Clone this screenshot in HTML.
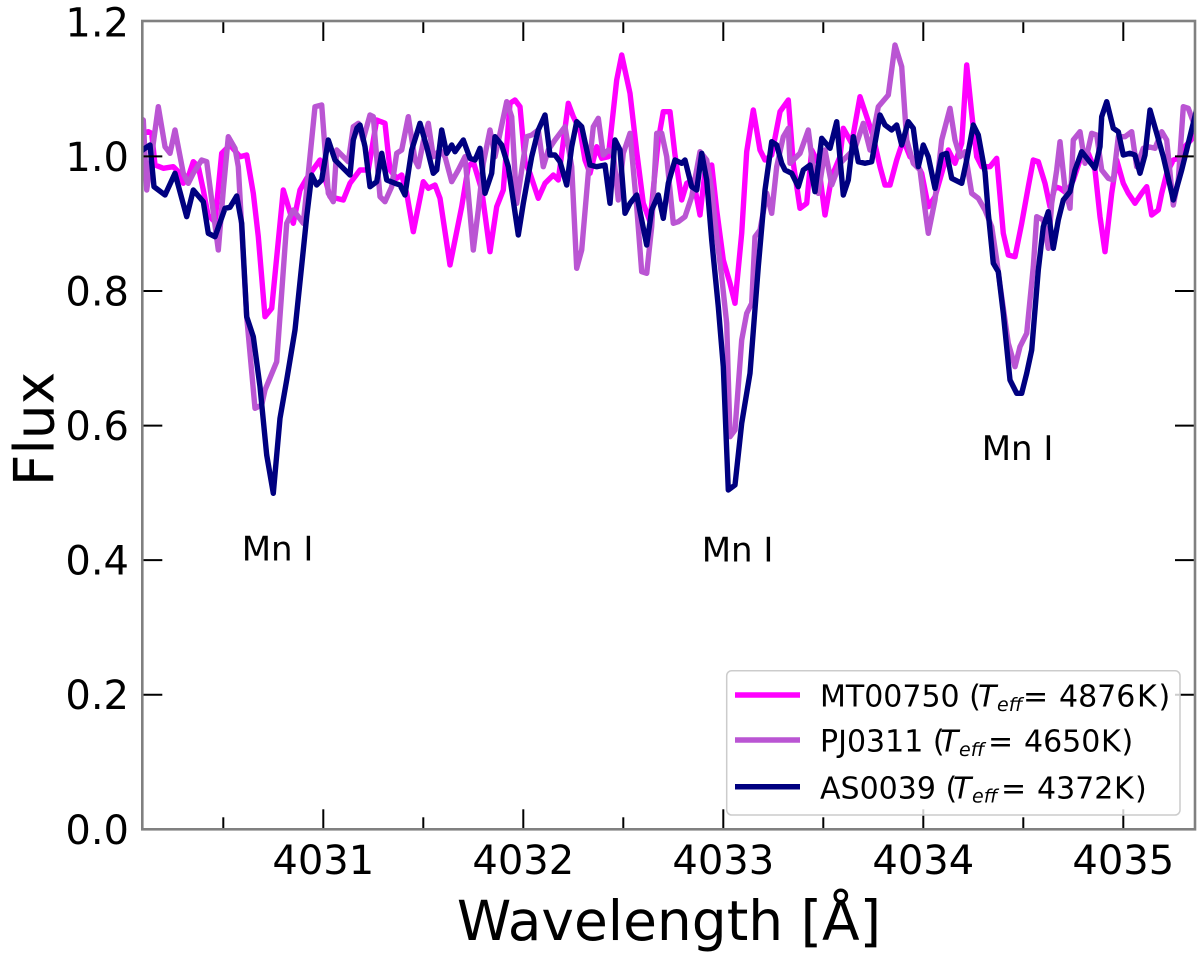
<!DOCTYPE html>
<html>
<head>
<meta charset="utf-8">
<style>
html,body{margin:0;padding:0;background:#fff;}
svg{display:block;}
text{font-family:"DejaVu Sans","Liberation Sans",sans-serif;fill:#000;}
</style>
</head>
<body>
<svg width="1200" height="958" viewBox="0 0 1200 958" xmlns="http://www.w3.org/2000/svg">
<defs>
<clipPath id="ax"><rect x="142.3" y="21" width="1052.7" height="808.3"/></clipPath>
</defs>
<rect width="1200" height="958" fill="#fff"/>

<g clip-path="url(#ax)" fill="none" stroke-width="5.4" stroke-linejoin="round" stroke-linecap="round">
<!-- MT00750 magenta -->
<polyline stroke="#ff00ff" points="140,134 143.3,133.3 148.3,131.7 151.7,133.3 155,165 163.3,168.3 173.3,166.7 178.3,171.7 183.3,183.3 188.3,176.7 193.3,161.7 198.3,166.7 203.3,190 208,215 215,222 221.7,153.3 230,145 240,156.7 246.7,155 253.3,193.3 258.3,236.7 265,316.7 271.7,308.3 283.3,190 293.3,223.3 300,190 306.7,178.3 320,160 330,196.7 343.3,200 350,183.3 360,170 368.3,170 376.7,120 385,123.3 390,170 396.7,178.3 401.7,175 406.7,193.3 413.3,231.7 423.3,181.7 428.3,188.3 435,185 440,198.3 450,265 461.7,206.7 468.3,166.7 473.3,161.7 481.7,190 490,251.7 496.7,206.7 503.3,190 510,103.3 515,100 520,106.7 525,161.7 530,173.3 538.3,198.3 545,183.3 553.3,175 558.3,180 568.3,103.3 573.3,116.7 580,130 585,160 590,173.3 596.7,146.7 601.7,158.3 608.3,156.7 616.7,80 621.7,55 630,93.3 636.7,151.7 643.3,203.3 650,221.7 658.3,140 663.3,111.7 670,111.7 675,155 681.7,200 686.7,183.3 693.3,180 700,215 705,171.7 711.7,165 716.7,210 723.3,260 730,283.3 735,303.3 741.7,233.3 746.7,151.7 753.3,110 760,150 765,160 771.7,155 780,111.7 788.3,100 793.3,163.3 800,208.3 806.7,203.3 811.7,150 818.3,163.3 825,215 831.7,176.7 840,156.7 843.3,128.3 851.7,143.3 860,96.7 866.7,116.7 873.3,136.7 880,166.7 885,185 890,185 896.7,160 903.3,140 910,156.7 915,160 921.7,173.3 928.3,206.7 935,196.7 941.7,173.3 948.3,150 955,163.3 961.7,143.3 966.7,65 971.7,113.3 976.7,156.7 981.7,166.7 990,166.7 996.7,158.3 1003.3,233.3 1008.3,255 1015,256.7 1021.7,223.3 1028.3,186.7 1033.3,160 1038.3,161.7 1045,183.3 1050,206.7 1055,186.7 1060,188.3 1066.7,193.3 1073.3,180 1080,160 1088.3,153.3 1095,170 1100,216.7 1105,251.7 1111.7,193.3 1116.7,160 1123.3,183.3 1128.3,193.3 1135,203.3 1141.7,193.3 1146.7,186.7 1151.7,215 1158.3,210 1161.7,193.3 1166.7,173.3 1173.3,160 1178.3,158.3 1185,146.7 1197,133"/>
<!-- PJ0311 purple -->
<polyline stroke="#ba55d3" points="140,118 143.3,120 146.7,190 151,160 158.3,106.7 165,146.7 170,153.3 175,130 183.3,173.3 188.3,183.3 193.3,173.3 201.7,160 206.7,161.7 211.7,200 218.3,250 223.3,190 228.3,136.7 235,148.3 238.3,166.7 246.7,316.7 255,408.3 261.7,405 265,390 276.7,361.7 286.7,223.3 293.3,210 303.3,223.3 315,106.7 321.7,105 328.3,193.3 333.3,201.7 336.7,150 348.3,161.7 353.3,126.7 358.3,123.3 363,140 370,115 373.3,116.7 380,196.7 385,201.7 391.7,186.7 396.7,153.3 401.7,150 408.3,116.7 415,160 418.3,166.7 423.3,141.7 428.3,123.3 433.3,156.7 440,150 445,156.7 451.7,181.7 458.3,170 465,156.7 473.3,250 478.3,210 483.3,163.3 490,130 495,156.7 500,133.3 506.7,101.7 511.7,116.7 516.7,203.3 521.7,170 526.7,136.7 531.7,135 538.3,130 543.3,166.7 548.3,150 555,140 565,126.7 571.7,166.7 576.7,268.3 581.7,250 588.3,173.3 593.3,126.7 598.3,118.3 603.3,155 608.3,150 613.3,153.3 618.3,200 623.3,153.3 630,133.3 636.7,206.7 641.7,271.7 646.7,273.3 651.7,226.7 656.7,133.3 661.7,133.3 666.7,156.7 673.3,223.3 678.3,221.7 685,216.7 691.7,196.7 700,151.7 706.7,160 711.7,190 716.7,236.7 721.7,276.7 726.7,323.3 730,436.7 735,430 741.7,340 746.7,313.3 751.7,303.3 755,236.7 760,230 766.7,193.3 771.7,213.3 776.7,166.7 783.3,136.7 788.3,128.3 790,163.3 800,153.3 808.3,130 813.3,170 818.3,193.3 825,150 831.7,185 840,163.3 846.7,156.7 855,148.3 863.3,123.3 870,150 878.3,106.7 888.3,95 895,45 901.7,66.7 906.7,140 913.3,163.3 920,170 923.3,196.7 928.3,233.3 935,200 941.7,140 950,108.3 955,140 960,156.7 965,151.7 971.7,193.3 978.3,198.3 985,210 991.7,226.7 996.7,260 1000,285 1008.3,343.3 1015,366.7 1020,346.7 1026.7,333.3 1033.3,266.7 1036.7,216.7 1043.3,220 1048.3,248.3 1051.7,203.3 1056.7,170 1060,141.7 1065,188.3 1070,208.3 1073.3,140 1080,131.7 1085,163.3 1091.7,133.3 1096.7,135 1101.7,170 1108.3,178.3 1113.3,180 1118.3,136.7 1125,136.7 1131.7,131.7 1136.7,166.7 1143.3,148.3 1148.3,146.7 1155,148.3 1161.7,131.7 1166.7,140 1173.3,205 1178.3,180 1183.3,106.7 1188.3,108.3 1197,132"/>
<!-- AS0039 navy -->
<polyline stroke="#000080" points="140,152 145,148.3 150,145 154,186.7 165,195 175,173.3 186.7,216.7 193.3,190 203.3,201.7 208.3,233.3 215,236.7 225,208.3 230,207.3 236.7,196 241.7,223.3 246.7,316.7 253.3,336.7 260,386.7 266.7,455 273.3,493.3 280,418.3 286.7,380 295,330 303.3,250 306.7,216.7 311.7,175 316.7,185 321.7,180 328.3,140 335,160 340,165 350,175 353.3,140 357,128 360,125 365,146.7 370,186.7 376.7,181.7 381.7,153.3 386.7,180 395,183.3 400,185 405,195 411.7,150 420,123.3 426.7,146.7 433.3,173.3 436.7,170 441.7,130 446.7,153.3 451.7,145 455,151.7 463.3,140 470,158.3 475,160 480,148.3 485,193.3 491.7,173.3 495,136.7 501.7,145 508.3,166.7 518.3,235 523.3,203.3 531.7,156.7 538.3,130 545,115 550,155 555,155 560,161.7 566.7,185 571.7,146.7 576.7,121.7 581.7,126.7 590,165 596.7,166.7 605,165 610,203.3 615,140 620,150 625,213.3 630,203.3 636.7,195 641.7,220 646.7,245 651.7,210 658.3,195 663.3,218.3 668.3,183.3 675,160 681.7,163.3 685,160 691.7,186.7 696.7,190 701.7,153.3 706.7,180 711.7,240 718.3,306.7 723.3,366.7 728.3,490 735,485 741.7,423.3 750,373.3 758.3,266.7 765,190 771.7,141.7 776.7,145 781.7,163.3 785,170 791.7,173.3 798.3,186.7 803.3,170 810,165 815,191.7 821.7,138.3 830,148.3 836.7,121.7 843.3,195 848.3,180 853.3,136.7 858.3,161.7 865,163.3 871.7,161.7 880,115 885,125 891.7,130 896.7,125 901.7,145 908.3,121.7 913.3,128.3 918.3,166.7 923.3,145 928.3,156.7 935,188.3 941.7,155 946.7,153.3 951.7,178.3 961.7,183.3 966.7,160 973.3,125 978.3,135 985,172 988.3,213.3 993.3,263.3 998.3,271.7 1003.3,313.3 1010,380 1016.7,393.3 1021.7,393.3 1026.7,373.3 1031.7,350 1038.3,270 1043.3,226.7 1048.3,211.7 1053.3,248.3 1058.3,220 1063.3,200 1070,191.7 1075,170 1081.7,151.7 1088.3,160 1095,168.3 1100,146.7 1101.7,116.7 1106.7,101.7 1113.3,128.3 1118.3,131.7 1123.3,155 1130,153.3 1135,155 1140,173.3 1145,155 1150,110 1156.7,133.3 1163.3,156.7 1173.3,200 1181.7,170 1197,108"/>
</g>

<!-- ticks -->
<g stroke="#000" stroke-width="2">
<line x1="142.3" y1="694.7" x2="162.3" y2="694.7"/>
<line x1="142.3" y1="560.1" x2="162.3" y2="560.1"/>
<line x1="142.3" y1="425.6" x2="162.3" y2="425.6"/>
<line x1="142.3" y1="291.0" x2="162.3" y2="291.0"/>
<line x1="142.3" y1="156.4" x2="162.3" y2="156.4"/>
<line x1="1195" y1="694.7" x2="1175" y2="694.7"/>
<line x1="1195" y1="560.1" x2="1175" y2="560.1"/>
<line x1="1195" y1="425.6" x2="1175" y2="425.6"/>
<line x1="1195" y1="291.0" x2="1175" y2="291.0"/>
<line x1="1195" y1="156.4" x2="1175" y2="156.4"/>
<line x1="323.3" y1="829.3" x2="323.3" y2="809.3"/>
<line x1="523.3" y1="829.3" x2="523.3" y2="809.3"/>
<line x1="723.3" y1="829.3" x2="723.3" y2="809.3"/>
<line x1="923.3" y1="829.3" x2="923.3" y2="809.3"/>
<line x1="1123.3" y1="829.3" x2="1123.3" y2="809.3"/>
<line x1="223.3" y1="829.3" x2="223.3" y2="817.3"/>
<line x1="423.3" y1="829.3" x2="423.3" y2="817.3"/>
<line x1="623.3" y1="829.3" x2="623.3" y2="817.3"/>
<line x1="823.3" y1="829.3" x2="823.3" y2="817.3"/>
<line x1="1023.3" y1="829.3" x2="1023.3" y2="817.3"/>
<line x1="323.3" y1="21" x2="323.3" y2="41"/>
<line x1="523.3" y1="21" x2="523.3" y2="41"/>
<line x1="723.3" y1="21" x2="723.3" y2="41"/>
<line x1="923.3" y1="21" x2="923.3" y2="41"/>
<line x1="1123.3" y1="21" x2="1123.3" y2="41"/>
<line x1="223.3" y1="21" x2="223.3" y2="33"/>
<line x1="423.3" y1="21" x2="423.3" y2="33"/>
<line x1="623.3" y1="21" x2="623.3" y2="33"/>
<line x1="823.3" y1="21" x2="823.3" y2="33"/>
<line x1="1023.3" y1="21" x2="1023.3" y2="33"/>
</g>

<!-- frame -->
<rect x="142.3" y="21" width="1052.7" height="808.3" fill="none" stroke="#808080" stroke-width="2.6"/>

<!-- y tick labels -->
<g font-size="40" text-anchor="end">
<text x="129" y="843.8">0.0</text>
<text x="129" y="709.2">0.2</text>
<text x="129" y="574.6">0.4</text>
<text x="129" y="440.1">0.6</text>
<text x="129" y="305.5">0.8</text>
<text x="129" y="170.9">1.0</text>
<text x="129" y="36.3">1.2</text>
</g>
<!-- x tick labels -->
<g font-size="40" text-anchor="middle">
<text x="323.3" y="874">4031</text>
<text x="523.3" y="874">4032</text>
<text x="723.3" y="874">4033</text>
<text x="923.3" y="874">4034</text>
<text x="1123.3" y="874">4035</text>
</g>

<!-- axis labels -->
<text x="669" y="940" font-size="55" text-anchor="middle">Wavelength [Å]</text>
<text transform="translate(53.3,429) rotate(-90)" font-size="55" text-anchor="middle">Flux</text>

<!-- annotations -->
<g font-size="34">
<text x="241.7" y="560.7">Mn I</text>
<text x="701.7" y="561.7">Mn I</text>
<text x="981.7" y="460">Mn I</text>
</g>

<!-- legend -->
<rect x="726.7" y="670.7" width="453.3" height="144.3" rx="5" ry="5" fill="#ffffff" fill-opacity="0.8" stroke="#cccccc" stroke-width="1.5"/>
<g stroke-width="5.5">
<line x1="735" y1="695" x2="800" y2="695" stroke="#ff00ff"/>
<line x1="735" y1="740" x2="800" y2="740" stroke="#ba55d3"/>
<line x1="735" y1="786.7" x2="800" y2="786.7" stroke="#000080"/>
</g>
<g font-size="30">
<text x="820" y="706.7">MT00750 (</text>
<text x="978" y="706.7" font-style="italic">T</text>
<text x="997" y="711" font-size="19" font-style="italic">eff</text>
<text x="1023" y="706.7">=</text>
<text x="1059" y="706.7">4876</text>
<text x="1137" y="706.7">K</text>
<text x="1158.5" y="706.7">)</text>

<text x="820" y="751.7">PJ0311 (</text>
<text x="940" y="751.7" font-style="italic">T</text>
<text x="959" y="756" font-size="19" font-style="italic">eff</text>
<text x="988" y="751.7">=</text>
<text x="1024" y="751.7">4650</text>
<text x="1101" y="751.7">K</text>
<text x="1121.5" y="751.7">)</text>

<text x="820" y="798.3">AS0039 (</text>
<text x="953" y="798.3" font-style="italic">T</text>
<text x="972" y="802.6" font-size="19" font-style="italic">eff</text>
<text x="1001" y="798.3">=</text>
<text x="1037" y="798.3">4372</text>
<text x="1114" y="798.3">K</text>
<text x="1135" y="798.3">)</text>
</g>
</svg>
</body>
</html>
